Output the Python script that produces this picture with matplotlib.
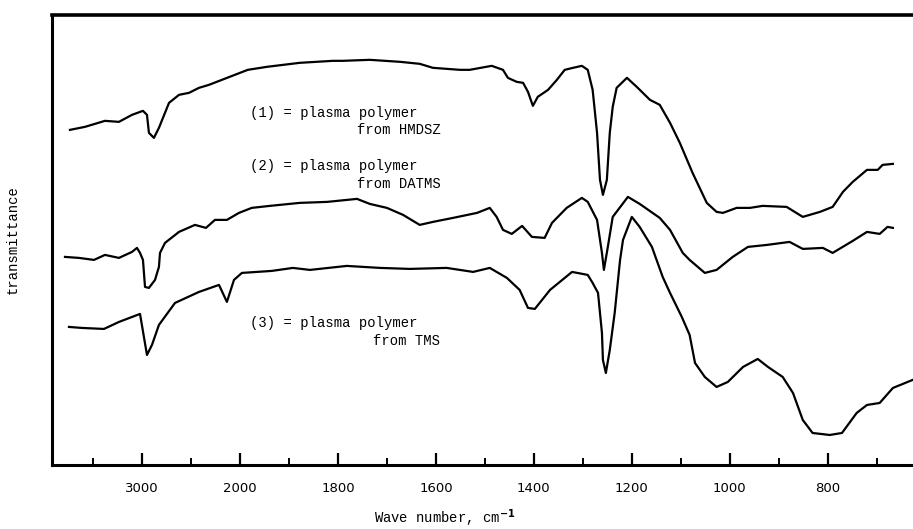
import numpy as np
import matplotlib
matplotlib.use("Agg")
import matplotlib.pyplot as plt
from matplotlib.ticker import FixedLocator, NullFormatter

plt.rcParams['mathtext.fontset'] = 'custom'
plt.rcParams['mathtext.rm'] = 'Liberation Mono'

# IR spectra: wavenumber (cm-1) and transmittance (arbitrary units)
wn_hmdsz = [3735, 3582, 3378, 3235, 3102, 2990, 2949, 2929, 2878, 2827, 2724, 2622, 2520,
            2418, 2316, 2184, 1984, 1945, 1878, 1810, 1790, 1735, 1673, 1633, 1606, 1551,
            1531, 1486, 1463, 1453, 1435, 1422, 1412, 1402, 1392, 1371, 1353, 1337, 1320,
            1302, 1290, 1280, 1271, 1265, 1259, 1251, 1245, 1239, 1231, 1210, 1190, 1163,
            1143, 1122, 1102, 1076, 1047, 1027, 1014, 986, 959, 933, 884, 851, 816, 790,
            769, 749, 720, 698, 688, 667]
tr_hmdsz = [335, 338, 344, 343, 350, 354, 350, 332, 327, 337, 362, 370, 372,
            377, 380, 385, 395, 398, 402, 404, 404, 405, 403, 401, 397, 395,
            395, 399, 395, 387, 383, 382, 373, 359, 368, 375, 385, 395, 397,
            399, 395, 375, 332, 285, 270, 285, 332, 358, 377, 387, 378, 365,
            360, 342, 322, 292, 262, 253, 252, 257, 257, 259, 258, 248, 253, 258,
            273, 283, 295, 295, 300, 301]

wn_datms = [3786, 3643, 3490, 3378, 3235, 3102, 3051, 3020, 2990, 2969, 2929, 2867, 2827,
            2816, 2765, 2622, 2459, 2347, 2255, 2133, 2010, 1976, 1939, 1878, 1822, 1761,
            1735, 1700, 1667, 1633, 1606, 1565, 1516, 1490, 1476, 1463, 1445, 1424, 1404,
            1378, 1363, 1333, 1302, 1290, 1271, 1261, 1257, 1249, 1239, 1208, 1184, 1143,
            1122, 1096, 1082, 1051, 1027, 994, 963, 924, 878, 851, 810, 790, 749, 720,
            694, 678, 667]
tr_datms = [208, 207, 205, 210, 207, 213, 217, 212, 205, 178, 177, 185, 198,
            212, 222, 233, 240, 237, 245, 245, 252, 257, 259, 262, 263, 266,
            261, 257, 250, 240, 243, 247, 252, 257, 248, 235, 231, 239, 228,
            227, 242, 257, 267, 263, 245, 212, 195, 218, 248, 268, 261, 247,
            235, 212, 205, 192, 195, 208, 218, 220, 223, 216, 217, 212, 224, 233,
            231, 238, 237]

wn_tms = [3745, 3612, 3388, 3235, 3020, 2949, 2898, 2827, 2663, 2418, 2214, 2133, 2061,
          1996, 1935, 1892, 1857, 1782, 1714, 1653, 1578, 1524, 1490, 1455, 1429, 1412,
          1398, 1367, 1322, 1290, 1280, 1269, 1261, 1259, 1253, 1245, 1235, 1224, 1218,
          1200, 1184, 1159, 1137, 1122, 1098, 1082, 1071, 1051, 1027, 1004, 973, 943,
          922, 892, 871, 851, 831, 796, 771, 741, 720, 694, 667, 637, 627]
tr_tms = [138, 137, 136, 143, 151, 110, 120, 140, 162, 173, 180, 163, 185,
          192, 194, 197, 195, 199, 197, 196, 197, 193, 197, 187, 175, 157,
          156, 175, 193, 190, 182, 172, 132, 105, 92, 115, 152, 205, 225,
          248, 238, 218, 188, 172, 148, 130, 102, 88, 78, 83, 98, 106,
          98, 88, 72, 45, 32, 30, 32, 52, 60, 62, 77, 83, 85]

major_ticks = [3000, 2000, 1800, 1600, 1400, 1200, 1000, 800]
minor_ticks = [3500, 2500, 1900, 1700, 1500, 1300, 1100, 900, 700]

labels = [("(1) = plasma polymer", "from HMDSZ", 0.782, 0.744),
          ("(2) = plasma polymer", "from DATMS", 0.664, 0.624),
          ("(3) = plasma polymer", "from TMS", 0.316, 0.276)]


# spectrometer chart paper: scale changes at 2000 cm-1
def fwd(w):
    w = np.asarray(w, dtype=float)
    return np.where(w >= 2000, (w - 2000) / 1000.0, (w - 2000) / 200.0)


def inv(u):
    u = np.asarray(u, dtype=float)
    return np.where(u >= 0, 2000 + 1000.0 * u, 2000 + 200.0 * u)


mono = 'Liberation Mono'

fig = plt.figure(figsize=(9.13, 5.29), dpi=100)
ax = fig.add_axes([0.057, 0.121, 0.943, 0.851])
ax.set_xscale('function', functions=(fwd, inv))

for wn, tr in [(wn_hmdsz, tr_hmdsz), (wn_datms, tr_datms), (wn_tms, tr_tms)]:
    ax.plot(wn, tr, color='black', lw=1.6, solid_joinstyle='round')

ax.set_xlim(3918, 626)
ax.set_ylim(0, 450)

ax.xaxis.set_major_locator(FixedLocator(major_ticks))
ax.xaxis.set_minor_locator(FixedLocator(minor_ticks))
ax.xaxis.set_minor_formatter(NullFormatter())
ax.set_xticklabels([str(t) for t in major_ticks])
ax.tick_params(axis='x', which='major', direction='in', length=9, width=1.6,
               pad=12, labelsize=9.5, top=False)
ax.tick_params(axis='x', which='minor', direction='in', length=5, width=1.4, top=False)
ax.set_yticks([])

for s in ['left', 'bottom']:
    ax.spines[s].set_linewidth(2.2)
ax.spines['top'].set_linewidth(2.6)
ax.spines['right'].set_visible(False)

for first, second, y1, y2 in labels:
    ax.text(0.230, y1, first, transform=ax.transAxes, family=mono, fontsize=10,
            ha='left', va='center')
    ax.text(0.451, y2, second, transform=ax.transAxes, family=mono, fontsize=10,
            ha='right', va='center')

ax.set_ylabel("transmittance", family=mono, fontsize=10)
ax.yaxis.set_label_coords(-0.038, 0.5)
ax.set_xlabel("Wave number, cm$^{\\mathbf{-1}}$", family=mono, fontsize=10)
ax.xaxis.set_label_coords(0.456, -0.095)

fig.savefig("out.png", dpi=100)
